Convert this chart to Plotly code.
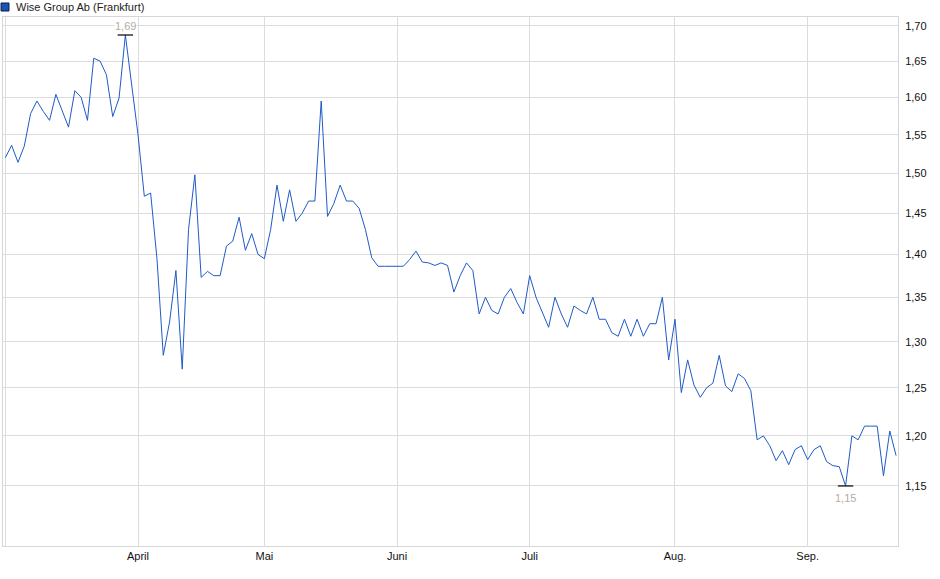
import math
import plotly.graph_objects as go

# Kursverlauf Wise Group Ab (Frankfurt), ein Wert pro Handelstag
kurs = [
    1.520, 1.536, 1.514, 1.535, 1.578, 1.595, 1.581, 1.569, 1.604, 1.581,
    1.560, 1.609, 1.600, 1.569, 1.654, 1.650, 1.631, 1.574, 1.599, 1.687,
    1.620, 1.550, 1.471, 1.475, 1.395, 1.285, 1.322, 1.381, 1.270, 1.430,
    1.498, 1.373, 1.380, 1.375, 1.375, 1.410, 1.416, 1.445, 1.405, 1.425,
    1.400, 1.395, 1.430, 1.485, 1.440, 1.479, 1.440, 1.450, 1.465, 1.465,
    1.595, 1.446, 1.462, 1.485, 1.465, 1.465, 1.456, 1.430, 1.396, 1.386,
    1.386, 1.386, 1.386, 1.386, 1.394, 1.404, 1.391, 1.390, 1.387, 1.390,
    1.387, 1.356, 1.375, 1.390, 1.381, 1.331, 1.350, 1.335, 1.331, 1.350,
    1.360, 1.344, 1.331, 1.375, 1.350, 1.332, 1.316, 1.350, 1.331, 1.316,
    1.340, 1.335, 1.331, 1.350, 1.325, 1.325, 1.310, 1.306, 1.325, 1.306,
    1.325, 1.306, 1.320, 1.320, 1.350, 1.280, 1.325, 1.245, 1.280, 1.253,
    1.240, 1.250, 1.255, 1.285, 1.252, 1.246, 1.265, 1.260, 1.247, 1.196,
    1.200, 1.190, 1.175, 1.185, 1.171, 1.186, 1.190, 1.176, 1.186, 1.190,
    1.174, 1.170, 1.169, 1.150, 1.200, 1.196, 1.210, 1.210, 1.210, 1.160,
    1.205, 1.180,
]
tage = list(range(len(kurs)))

# Monatsanfaenge (Index des Handelstages)
monat_pos = [0, 21, 41, 62, 83, 106, 127]
monat_namen = ['', 'April', 'Mai', 'Juni', 'Juli', 'Aug.', 'Sep.']

y_ticks = [1.15, 1.20, 1.25, 1.30, 1.35, 1.40, 1.45, 1.50, 1.55, 1.60, 1.65, 1.70]

i_max = kurs.index(max(kurs))
i_min = kurs.index(min(kurs))

fig = go.Figure()
fig.add_trace(go.Scatter(x=tage, y=kurs, mode='lines',
                         line=dict(color='#1f5bc6', width=1), hoverinfo='skip'))
# Hoch/Tief-Markierung
fig.add_trace(go.Scatter(x=[i_max, i_min], y=[kurs[i_max], kurs[i_min]], mode='markers',
                         marker=dict(symbol='line-ew', size=11, line=dict(color='black', width=1.2)),
                         hoverinfo='skip'))

fig.add_annotation(x=i_max, y=math.log10(kurs[i_max]), text=f"{kurs[i_max]:.2f}".replace('.', ','),
                   showarrow=False, yshift=9, bgcolor='white', borderpad=0,
                   font=dict(size=11, color='#b5aba2'))
fig.add_annotation(x=i_min, y=math.log10(kurs[i_min]), text=f"{kurs[i_min]:.2f}".replace('.', ','),
                   showarrow=False, yshift=-12, bgcolor='white', borderpad=0,
                   font=dict(size=11, color='#b5aba2'))

# Legende oben links
fig.add_shape(type='rect', xref='paper', yref='paper', x0=-0.0022, x1=0.0067, y0=1.0113, y1=1.0265,
              fillcolor='#1a52b8', line=dict(color='#14203f', width=1))
fig.add_annotation(xref='paper', yref='paper', x=0.0123, y=1.019, xanchor='left', yanchor='middle',
                   text='Wise Group Ab (Frankfurt)', showarrow=False, font=dict(size=11, color='#222'))

fig.update_xaxes(range=[-0.37, 141.3], tickvals=monat_pos, ticktext=monat_namen,
                 showgrid=True, gridcolor='#dcdcdc', gridwidth=1, zeroline=False,
                 showline=True, linecolor='#d6d6d6', mirror=True, ticks='',
                 tickfont=dict(size=11, color='#111'))
fig.update_yaxes(type='log', side='right', range=[math.log10(1.0928), math.log10(1.713)],
                 tickvals=y_ticks, tickformat='.2f',
                 showgrid=True, gridcolor='#dcdcdc', gridwidth=1, zeroline=False,
                 showline=True, linecolor='#d6d6d6', mirror=True, ticks='',
                 ticklabelstandoff=4, tickfont=dict(size=11, color='#111'))

fig.update_layout(width=940, height=579, margin=dict(l=3, r=42, t=17, b=33),
                  plot_bgcolor='white', paper_bgcolor='white', showlegend=False,
                  separators=',.', font=dict(family='Liberation Sans, Arial, sans-serif'))

# Seitenrand des Browsers entfernen, damit das Diagramm bei (0,0) beginnt
fig.write_html("out.html", config={'displayModeBar': False},
               post_script="document.body.style.margin='0';")
